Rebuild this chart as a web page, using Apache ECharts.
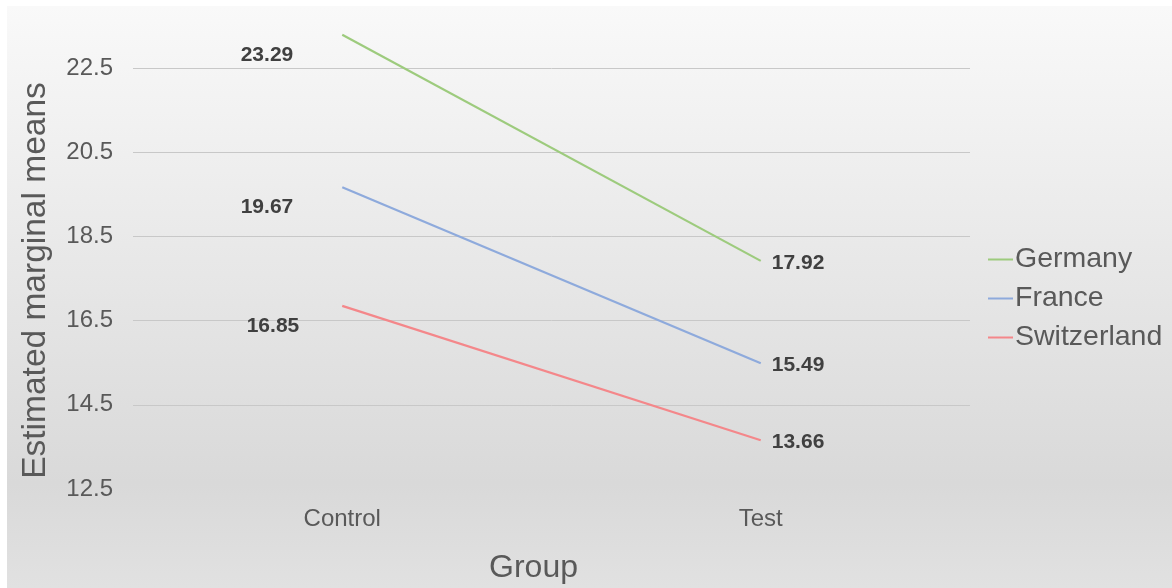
<!DOCTYPE html>
<html>
<head>
<meta charset="utf-8">
<script src="https://cdn.jsdelivr.net/npm/echarts@6/dist/echarts.min.js"></script>
<style>
  html, body { margin: 0; padding: 0; background: #ffffff; }
  #chart { width: 1172px; height: 588px; }
</style>
</head>
<body>
<div id="chart"></div>
<script>
// Estimated marginal means by group and country
const groups = ['Control', 'Test'];
const germany = [23.29, 17.92];
const france = [19.67, 15.49];
const switzerland = [16.85, 13.66];

const seriesNames = ['Germany', 'France', 'Switzerland'];
const seriesValues = [germany, france, switzerland];
const seriesColors = ['#9dcb7d', '#8eaadc', '#f4878a'];
// horizontal nudge of each series' left-hand value label
const leftLabelShift = [-44, -44, -38];

const FONT = '"Liberation Sans", Arial, sans-serif';

const chart = echarts.init(document.getElementById('chart'), null, { renderer: 'canvas' });

const series = seriesNames.map((name, i) => ({
  name: name,
  type: 'line',
  data: seriesValues[i].map((v, j) => ({
    value: v,
    label: j === 0
      ? { position: 'left', offset: [leftLabelShift[i], 20] }
      : { position: 'right', offset: [6, 2] }
  })),
  symbol: 'circle',
  symbolSize: 0.01,
  showSymbol: true,
  lineStyle: { color: seriesColors[i], width: 2.2 },
  itemStyle: { color: seriesColors[i] },
  label: {
    show: true,
    formatter: p => p.value.toFixed(2),
    color: '#404040',
    fontFamily: FONT,
    fontWeight: 'bold',
    fontSize: 21
  },
  emphasis: { disabled: true },
  animation: false
}));

chart.setOption({
  animation: false,
  textStyle: { fontFamily: FONT },
  graphic: [{
    type: 'rect',
    z: -10,
    silent: true,
    shape: { x: 7, y: 6, width: 1165, height: 582 },
    style: {
      fill: new echarts.graphic.LinearGradient(0, 0, 0, 1, [
        { offset: 0, color: '#f9f9f9' },
        { offset: 0.82, color: '#d9d9d9' },
        { offset: 1, color: '#e1e1e1' }
      ])
    }
  }],
  legend: {
    orient: 'vertical',
    left: 983,
    top: 240,
    itemWidth: 25,
    itemHeight: 2,
    itemGap: 10,
    icon: 'rect',
    data: seriesNames,
    textStyle: { fontSize: 28.5, color: '#595959', fontFamily: FONT, padding: [0, 0, 0, -3] }
  },
  grid: { left: 133, right: 202, top: 26, bottom: 99, outerBoundsMode: 'none' },
  xAxis: {
    type: 'category',
    data: groups,
    boundaryGap: true,
    axisLine: { show: false },
    axisTick: { show: false },
    axisLabel: { color: '#595959', fontSize: 24, fontFamily: FONT, margin: 18 },
    name: 'Group',
    nameLocation: 'middle',
    nameGap: 63,
    nameTextStyle: { fontSize: 32, color: '#595959', fontFamily: FONT, padding: [0, 36, 0, 0] }
  },
  yAxis: {
    type: 'value',
    min: 12.5,
    max: 23.5,
    interval: 2,
    axisLine: { show: false },
    axisTick: { show: false },
    axisLabel: {
      color: '#595959', fontSize: 24, fontFamily: FONT, margin: 20,
      showMaxLabel: false,
      formatter: v => v.toFixed(1)
    },
    splitLine: {
      show: true,
      showMinLine: false,
      showMaxLine: false,
      lineStyle: { color: '#c8c8c8', width: 1 }
    },
    name: 'Estimated marginal means',
    nameLocation: 'middle',
    nameGap: 80,
    nameTextStyle: { fontSize: 33.5, color: '#595959', fontFamily: FONT, padding: [0, 46, 0, 0] }
  },
  series: series
});
</script>
</body>
</html>
